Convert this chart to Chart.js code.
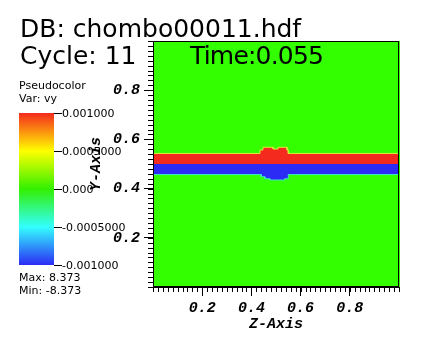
<!DOCTYPE html>
<html>
<head>
<meta charset="utf-8">
<script src="https://cdn.jsdelivr.net/npm/chart.js@4/dist/chart.umd.min.js"></script>
<style>
  html, body { margin: 0; padding: 0; background: #fff; }
  #wrap { position: relative; width: 422px; height: 364px; overflow: hidden; }
  #mygraph { position: absolute; left: 0; top: 0; }
  .big { position: absolute; font-family: "DejaVu Sans", sans-serif; font-size: 25px; line-height: 25px; color: #000; white-space: nowrap; z-index: 2; }
  .small { position: absolute; font-family: "DejaVu Sans", sans-serif; font-size: 11px; line-height: 11px; color: #000; white-space: nowrap; z-index: 2; }
  #cbar { position: absolute; left: 19px; top: 113px; width: 35px; height: 152px; z-index: 2;
    background: linear-gradient(to bottom, #f52a1e 0%, #ffff00 25%, #33f000 50%, #33ffff 75%, #2b2bf5 100%); }
  .cbtick { position: absolute; left: 54px; width: 8px; height: 1px; background: #000; z-index: 2; }
</style>
</head>
<body>
<div id="wrap">
  <canvas id="mygraph" width="422" height="364"></canvas>
  <div class="big" id="dbLine" style="left:20px; top:16px;"></div>
  <div class="big" id="cycleLine" style="left:20px; top:43px;"></div>
  <div class="big" id="timeLine" style="left:190px; top:43px; letter-spacing:-0.8px;"></div>
  <div class="small" id="plotName" style="left:19px; top:80px;"></div>
  <div class="small" id="varName" style="left:19px; top:93px;"></div>
  <div id="cbar"></div>
  <div class="small" id="maxLine" style="left:19px; top:272px;"></div>
  <div class="small" id="minLine" style="left:19px; top:285px;"></div>
</div>
<script>
// header / legend text
let dbName = 'DB: chombo00011.hdf'
let cycleText = 'Cycle: 11'
let timeText = 'Time:0.055'
let plotType = 'Pseudocolor'
let varText = 'Var: vy'
let maxText = 'Max: 8.373'
let minText = 'Min: -8.373'

// colorbar
let cbarValues = [0.001, 0.0005, 0, -0.0005, -0.001]
let cbarLabels = ['0.001000', '0.0005000', '0.000', '-0.0005000', '-0.001000']

// axis ticks
let xTicks = [0.2, 0.4, 0.6, 0.8]
let yTicks = [0.2, 0.4, 0.6, 0.8]
let minorStep = 0.02

// vy field: red sheet above y=0.5, blue sheet below, with a bump near z=0.5
// edges are cell boundaries along z, levels the sheet edge in each cell run
let midY = 0.5
let topEdges = [0, 0.435, 0.447, 0.488, 0.508, 0.545, 0.55, 1]
let topLevels = [0.543, 0.557, 0.568, 0.561, 0.568, 0.557, 0.543]
let bottomEdges = [0, 0.44, 0.455, 0.475, 0.535, 0.55, 1]
let bottomLevels = [0.457, 0.448, 0.44, 0.435, 0.44, 0.457]

// cell runs -> corner points of the blocky edge
let blockPoints = (edges, levels) => {
  let pts = []
  levels.forEach((lv, i) => {
    pts.push({ x: edges[i], y: lv })
    pts.push({ x: edges[i + 1], y: lv })
  })
  return pts
}

document.getElementById('dbLine').textContent = dbName
document.getElementById('cycleLine').textContent = cycleText
document.getElementById('timeLine').textContent = timeText
document.getElementById('plotName').textContent = plotType
document.getElementById('varName').textContent = varText
document.getElementById('maxLine').textContent = maxText
document.getElementById('minLine').textContent = minText

// colorbar ticks and labels
let wrap = document.getElementById('wrap')
let cbTop = 113, cbHeight = 152
cbarValues.forEach((v, i) => {
  let y = cbTop + (cbarValues[0] - v) / (cbarValues[0] - cbarValues[cbarValues.length - 1]) * cbHeight
  let t = document.createElement('div')
  t.className = 'cbtick'
  t.style.top = Math.round(y) + 'px'
  wrap.appendChild(t)
  let l = document.createElement('div')
  l.className = 'small'
  l.style.left = '62px'
  l.style.top = Math.round(y - 5) + 'px'
  l.textContent = cbarLabels[i]
  wrap.appendChild(l)
})

let GREEN = '#33ff00'
let axisFont = { family: 'Liberation Mono', size: 15, weight: 'bold', style: 'italic' }

let fieldPlugin = {
  id: 'field',
  beforeDatasetsDraw(chart) {
    let a = chart.chartArea
    let c = chart.ctx
    c.save()
    c.fillStyle = GREEN
    c.fillRect(a.left, a.top, a.right - a.left + 1, a.bottom - a.top)
    c.restore()
  },
  afterDraw(chart) {
    let a = chart.chartArea
    let c = chart.ctx
    let xs = chart.scales.x, ys = chart.scales.y
    c.save()
    c.strokeStyle = '#000'
    c.lineWidth = 1
    c.strokeRect(a.left + 0.5, a.top + 0.5, a.right - a.left - 1, a.bottom - a.top - 1)
    c.beginPath()
    for (let v = 0; v <= 1.0001; v += minorStep) {
      let px = Math.round(xs.getPixelForValue(v)) + 0.5
      c.moveTo(px, a.bottom)
      c.lineTo(px, a.bottom + 5)
      let py = Math.round(ys.getPixelForValue(v)) + 0.5
      c.moveTo(a.left, py)
      c.lineTo(a.left - 5, py)
    }
    c.stroke()
    c.restore()
  }
}

let ctx = document.getElementById('mygraph').getContext('2d')
new Chart(ctx, {
  type: 'scatter',
  data: {
    datasets: [{
      label: 'vy > 0',
      data: blockPoints(topEdges, topLevels),
      showLine: true,
      fill: { value: midY },
      backgroundColor: '#f52a1e',
      borderColor: '#d6f23a',
      borderWidth: 1,
      pointRadius: 0
    }, {
      label: 'vy < 0',
      data: blockPoints(bottomEdges, bottomLevels),
      showLine: true,
      fill: { value: midY },
      backgroundColor: '#2b2bf5',
      borderColor: '#3fe6c8',
      borderWidth: 1,
      pointRadius: 0
    }]
  },
  options: {
    responsive: false,
    animation: false,
    layout: { padding: { left: 87, top: 41, right: 23, bottom: 31 } },
    plugins: { legend: { display: false }, tooltip: { enabled: false } },
    scales: {
      x: {
        type: 'linear', min: 0, max: 1, position: 'bottom',
        afterBuildTicks: s => { s.ticks = xTicks.map(v => ({ value: v })) },
        afterFit: s => { s.height = 46 },
        ticks: { font: axisFont, color: '#000', padding: 3, maxRotation: 0, autoSkip: false, callback: v => v.toFixed(1) },
        grid: { drawOnChartArea: false, tickLength: 9, tickColor: '#000', tickWidth: 1 },
        border: { display: true, color: '#000', width: 1 },
        title: { display: true, text: 'Z-Axis', font: axisFont, color: '#000', padding: 0 }
      },
      y: {
        type: 'linear', min: 0, max: 1, position: 'left',
        afterBuildTicks: s => { s.ticks = yTicks.map(v => ({ value: v })) },
        afterFit: s => { s.width = 66 },
        ticks: { font: axisFont, color: '#000', padding: 4, autoSkip: false, callback: v => v.toFixed(1) },
        grid: { drawOnChartArea: false, tickLength: 9, tickColor: '#000', tickWidth: 1 },
        border: { display: true, color: '#000', width: 1 },
        title: { display: true, text: 'Y-Axis', font: axisFont, color: '#000', padding: 0 }
      }
    }
  },
  plugins: [fieldPlugin]
})
</script>
</body>
</html>
